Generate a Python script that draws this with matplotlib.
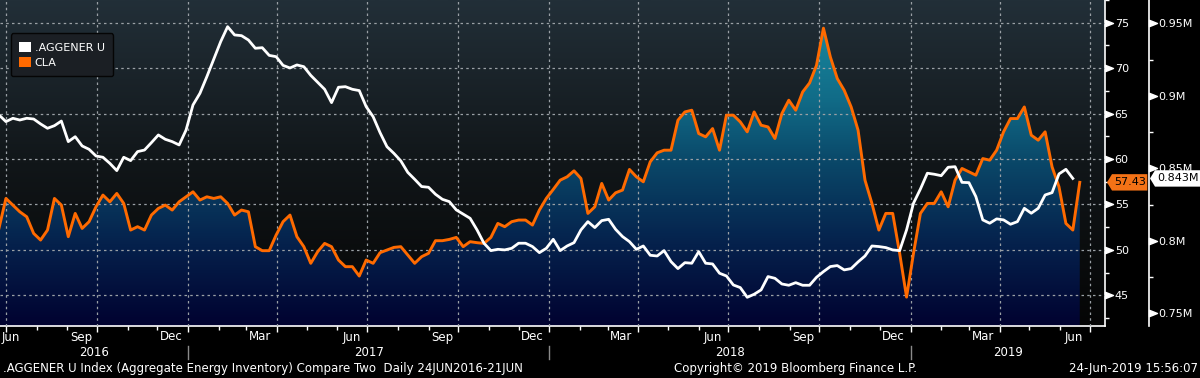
import matplotlib
matplotlib.use("Agg")
import matplotlib.pyplot as plt
import matplotlib.dates as mdates
import numpy as np
import pandas as pd
from matplotlib.colors import LinearSegmentedColormap
from matplotlib.patches import Patch, Polygon
from matplotlib.path import Path
from matplotlib.ticker import FixedLocator, FuncFormatter, NullFormatter
from matplotlib.transforms import IdentityTransform

# weekly readings, first point 24-Jun-2016
START = "2016-06-24"

CLA = [
    52.40, 55.66, 54.93, 54.19, 53.64, 51.81, 51.08, 52.18, 55.66, 54.93,
    51.45, 54.01, 52.36, 53.10, 54.74, 56.03, 55.29, 56.21, 55.11, 52.18,
    52.55, 52.18, 53.83, 54.56, 54.93, 54.38, 55.29, 55.84, 56.39, 55.48,
    55.84, 55.66, 55.84, 55.11, 53.83,
    54.38, 54.19, 50.35, 49.91, 49.91, 51.63, 53.10, 53.83, 51.45, 50.35,
    48.52, 49.80, 50.71, 50.35, 48.88, 48.15, 48.15, 47.12, 48.88, 48.52,
    49.69, 49.98, 50.27, 50.35, 49.43, 48.52, 49.25, 49.62, 51.01, 51.01,
    51.15, 51.37, 50.35,
    50.90, 50.79, 50.71, 51.37, 52.91, 52.55, 53.10, 53.28, 53.28, 52.73,
    54.38, 55.66, 56.65, 57.67, 58.04, 58.70, 57.86, 54.01, 54.74, 57.31,
    55.48, 56.28, 56.58, 58.85, 58.04, 57.49, 59.69, 60.68, 60.97, 60.97,
    64.27, 65.18, 65.37,
    62.80, 62.44, 63.35, 60.97, 64.82, 64.82, 64.08, 62.99, 65.18, 63.72,
    63.53, 62.25, 65.00, 66.47, 65.37, 67.38, 68.37, 70.31, 74.40, 71.23,
    68.85, 67.56, 65.73, 63.17, 57.67, 55.11, 52.18, 54.01, 54.01, 49.62,
    44.80, 49.62, 54.01, 55.11,
    55.11, 56.39, 54.74, 57.67, 58.96, 58.59, 58.22, 60.05, 59.87, 60.97,
    62.99, 64.45, 64.45, 65.73, 62.62, 62.07, 62.99, 59.14, 56.94, 52.91,
    52.18, 57.43,
]

AGGENER = [
    0.8868, 0.8822, 0.8845, 0.8833, 0.8845, 0.8840, 0.8806, 0.8776, 0.8794, 0.8826,
    0.8684, 0.8718, 0.8654, 0.8631, 0.8585, 0.8576, 0.8534, 0.8484, 0.8576, 0.8553,
    0.8615, 0.8626, 0.8677, 0.8730, 0.8700, 0.8684, 0.8661, 0.8764, 0.8937, 0.9017,
    0.9132, 0.9252, 0.9374, 0.9477, 0.9420,
    0.9415, 0.9385, 0.9328, 0.9332, 0.9279, 0.9270, 0.9210, 0.9192, 0.9213, 0.9201,
    0.9141, 0.9093, 0.9045, 0.8953, 0.9059, 0.9063, 0.9045, 0.9036, 0.8925, 0.8856,
    0.8746, 0.8649, 0.8603, 0.8551, 0.8472, 0.8424, 0.8374, 0.8369, 0.8321, 0.8286,
    0.8270, 0.8213, 0.8184,
    0.8155, 0.8075, 0.7983, 0.7932, 0.7941, 0.7937, 0.7948, 0.7983, 0.7983, 0.7960,
    0.7918, 0.7948, 0.8010, 0.7932, 0.7964, 0.7987, 0.8075, 0.8132, 0.8091, 0.8139,
    0.8148, 0.8079, 0.8029, 0.7994, 0.7941, 0.7964, 0.7900, 0.7895, 0.7932, 0.7856,
    0.7808, 0.7849, 0.7845,
    0.7925, 0.7845, 0.7840, 0.7776, 0.7757, 0.7695, 0.7677, 0.7610, 0.7631, 0.7661,
    0.7753, 0.7741, 0.7702, 0.7693, 0.7711, 0.7693, 0.7693, 0.7748, 0.7787, 0.7822,
    0.7829, 0.7799, 0.7808, 0.7854, 0.7895, 0.7964, 0.7960, 0.7953, 0.7937, 0.7932,
    0.8075, 0.8259, 0.8357, 0.8466,
    0.8459, 0.8449, 0.8507, 0.8511, 0.8403, 0.8401, 0.8305, 0.8144, 0.8121, 0.8151,
    0.8144, 0.8114, 0.8132, 0.8224, 0.8190, 0.8224, 0.8316, 0.8332, 0.8461, 0.8493,
    0.843,
]

CLA_TICKS = [45, 50, 55, 60, 65, 70, 75]
AGG_TICKS = [0.75, 0.80, 0.85, 0.90, 0.95]
SERIES = [".AGGENER U", "CLA"]
FOOTER_LEFT = ".AGGENER U Index (Aggregate Energy Inventory) Compare Two  Daily 24JUN2016-21JUN"
FOOTER_MID = "Copyright\u00a9 2019 Bloomberg Finance L.P."
FOOTER_RIGHT = "24-Jun-2019 15:56:07"

ORANGE = "#ff6a00"
FS = 8
FS_BOTTOM = 8.5

cla_dates = pd.date_range(START, periods=len(CLA), freq="7D")
agg_dates = pd.date_range(START, periods=len(AGGENER), freq="7D")

W, H = 1200, 378
fig = plt.figure(figsize=(W / 100, H / 100), dpi=100, facecolor="black")
ax = fig.add_axes([0, 52 / H, 1105 / W, 326 / H])
ax2 = ax.twinx()

xmin, xmax = pd.Timestamp("2016-06-25"), pd.Timestamp("2019-07-16 12:00")
ylo, yhi = 41.62, 77.50

# background and area gradients
grad = np.linspace(0, 1, 256).reshape(-1, 1)
bg_cmap = LinearSegmentedColormap.from_list(
    "bg", [(0, "#050505"), (0.5, "#111619"), (1, "#222f38")])
fill_cmap = LinearSegmentedColormap.from_list(
    "fill", [(0, "#010230"), (0.25, "#05214c"), (0.5, "#0a4768"),
             (0.7, "#116c88"), (1, "#1b90a4")])
ax.imshow(grad, cmap=bg_cmap, aspect="auto", origin="lower",
          extent=(0, 1, 0, 1), transform=ax.transAxes, zorder=0)
area = ax.fill_between(cla_dates, CLA, ylo, facecolor="none", edgecolor="none")
im = ax.imshow(grad, cmap=fill_cmap, aspect="auto", origin="lower",
               extent=(0, 1, 0, 1), transform=ax.transAxes, zorder=1)
im.set_clip_path(area.get_paths()[0], ax.transData)

ax.plot(cla_dates, CLA, color=ORANGE, lw=2.1, zorder=3)
ax2.plot(agg_dates, AGGENER, color="white", lw=2)

ax.set_xlim(xmin, xmax)
ax.set_ylim(ylo, yhi)
ax2.set_ylim(0.7412, 0.9661)

# x axis
ax.xaxis.set_major_locator(mdates.MonthLocator(bymonth=[1, 4, 7, 10]))
ax.xaxis.set_minor_locator(mdates.MonthLocator())
ax.xaxis.set_major_formatter(NullFormatter())
ax.tick_params(axis="x", which="major", length=4.5, width=1, color="white")
ax.tick_params(axis="x", which="minor", length=3, width=1, color="white")

# y axes on the right
ax.yaxis.tick_right()
ax.yaxis.set_major_locator(FixedLocator(CLA_TICKS))
ax.yaxis.set_minor_locator(FixedLocator([t + 2.5 for t in [40] + CLA_TICKS]))
ax2.yaxis.set_major_locator(FixedLocator(AGG_TICKS))
ax2.yaxis.set_minor_locator(FixedLocator([t + 0.025 for t in AGG_TICKS]))
ax2.yaxis.set_major_formatter(FuncFormatter(lambda v, p: f"{v:g}M"))
for a in (ax, ax2):
    a.tick_params(axis="y", which="major", length=0, pad=7,
                  labelcolor="white", labelsize=FS)
    a.tick_params(axis="y", which="minor", length=3, width=1, color="white")
    for s in ("left", "top"):
        a.spines[s].set_visible(False)
    a.spines["right"].set_color("white")
    a.spines["right"].set_linewidth(1.2)
ax.spines["bottom"].set_color("white")
ax.spines["bottom"].set_linewidth(1.2)
ax2.spines["bottom"].set_visible(False)
ax2.spines["right"].set_position(("outward", 31.5))

tri = Path([(0, -0.4), (1, 0), (0, 0.4), (0, -0.4)],
           [Path.MOVETO, Path.LINETO, Path.LINETO, Path.CLOSEPOLY])
ax.plot([1] * len(CLA_TICKS), CLA_TICKS, ls="none", marker=tri, ms=11.5,
        color="white", transform=ax.get_yaxis_transform(), clip_on=False)
ax2.plot([1 + 43.7 / 1105] * len(AGG_TICKS), AGG_TICKS, ls="none", marker=tri,
         ms=11.5, color="white", transform=ax2.get_yaxis_transform(), clip_on=False)

ax.set_axisbelow(False)
ax.grid(True, which="major", color="#9aa0a5", lw=0.9, ls=(0, (2, 2.6)))

# month / year labels under the axis (quarter-end months, mid-month)
xt = ax.get_xaxis_transform()
for d in pd.date_range("2016-06-01", "2019-06-01", freq="3MS") + pd.Timedelta(days=14):
    if d < xmin:
        ax.text(xmin + pd.Timedelta(days=2), -11 / 326, d.strftime("%b"),
                transform=xt, ha="left", va="center", color="white",
                fontsize=FS_BOTTOM)
    else:
        ax.text(d, -11 / 326, d.strftime("%b"), transform=xt, ha="center",
                va="center", color="white", fontsize=FS_BOTTOM)
for yr in (2016, 2017, 2018, 2019):
    a = max(pd.Timestamp(f"{yr}-01-01"), xmin)
    b = min(pd.Timestamp(f"{yr + 1}-01-01"), xmax)
    ax.text(a + (b - a) / 2, -26 / 326, str(yr), transform=xt, ha="center",
            va="center", color="white", fontsize=FS_BOTTOM)
    if yr > 2016:
        ax.plot([a, a], [-20 / 326, -33 / 326], transform=xt, color="#8a8a8a",
                lw=1, clip_on=False)

# legend
handles = [Patch(facecolor="white"), Patch(facecolor=ORANGE)]
leg = ax2.legend(handles, SERIES, loc="upper left",
                 bbox_to_anchor=(10.7 / 1105, 1 - 33.3 / 326), borderaxespad=0,
                 handlelength=1.1, handleheight=1.1, handletextpad=0.3,
                 labelspacing=0.35, borderpad=0.75, fontsize=FS,
                 labelcolor="white", facecolor="#1b1f24", edgecolor="#050505",
                 framealpha=1, fancybox=True)

# last-value tags
def tag(xleft, xright, ypix, face, text):
    poly = Polygon([(xleft, ypix), (xleft + 5, ypix + 8.2), (xright, ypix + 8.2),
                    (xright, ypix - 8.2), (xleft + 5, ypix - 8.2)], closed=True,
                   facecolor=face, edgecolor="none", transform=IdentityTransform())
    fig.add_artist(poly)
    fig.text((xleft + 5 + xright) / 2, ypix, text, transform=IdentityTransform(),
             ha="center", va="center", color="black", fontsize=FS)

y_cla = ax.get_yaxis_transform().transform((1, CLA[-1]))[1]
y_agg = ax2.get_yaxis_transform().transform((1, AGGENER[-1]))[1]
tag(1107, 1147.3, y_cla, "#f47216", f"{CLA[-1]:.2f}")
tag(1150, 1201, y_agg, "white", f"{AGGENER[-1]:.3f}M")

fig.text(3 / W, 9.5 / H, FOOTER_LEFT, ha="left", va="center", color="white", fontsize=FS_BOTTOM)
fig.text(795 / W, 9.5 / H, FOOTER_MID, ha="center", va="center", color="white", fontsize=FS_BOTTOM)
fig.text(1198 / W, 9.5 / H, FOOTER_RIGHT, ha="right", va="center", color="white", fontsize=FS_BOTTOM)

fig.savefig("out.png", dpi=100, facecolor="black")
